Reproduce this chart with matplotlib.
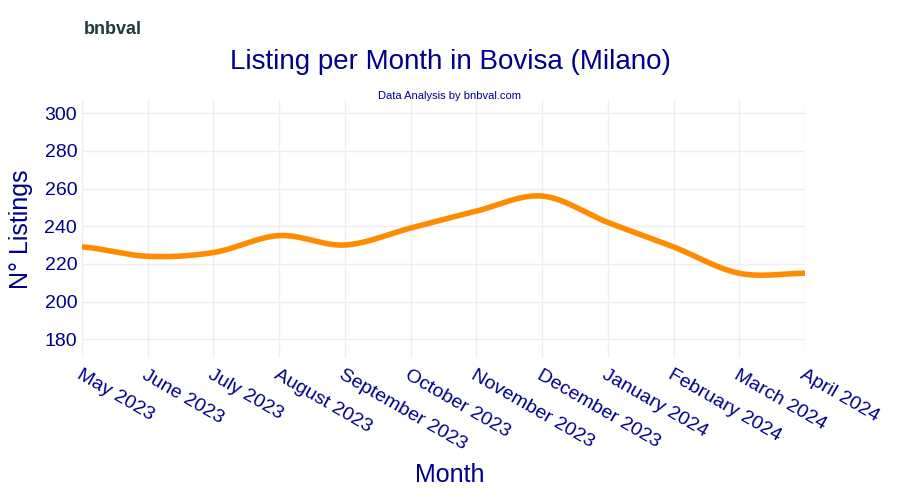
import numpy as np
import matplotlib
matplotlib.use("Agg")
import matplotlib.pyplot as plt
plt.rcParams["font.family"] = "Liberation Sans"

months = ["May 2023","June 2023","July 2023","August 2023","September 2023","October 2023",
          "November 2023","December 2023","January 2024","February 2024","March 2024","April 2024"]
listings = [229, 224, 226, 235, 230, 239, 248, 256, 242, 229, 215, 215]

def catmull(y, n=30):
    y = np.asarray(y, float)
    p = np.concatenate([[y[0]], y, [y[-1]]])
    xs, ys = [], []
    for i in range(len(y) - 1):
        p0, p1, p2, p3 = p[i], p[i+1], p[i+2], p[i+3]
        t = np.linspace(0, 1, n, endpoint=False)
        v = 0.5*((2*p1) + (-p0+p2)*t + (2*p0-5*p1+4*p2-p3)*t**2 + (-p0+3*p1-3*p2+p3)*t**3)
        xs.append(i + t); ys.append(v)
    xs.append([len(y)-1]); ys.append([y[-1]])
    return np.concatenate(xs), np.concatenate(ys)

fig = plt.figure(figsize=(9, 5), dpi=100)
ax = fig.add_axes([82/900, 1-358/500, (805-82)/900, (358-100)/500])
xs, ys = catmull(listings)
ax.plot(xs, ys, color="#FF8C00", lw=4, solid_capstyle="round")
ax.set_xlim(0, len(months)-1)
ax.set_ylim(170, 307)
ax.set_yticks(range(180, 301, 20))
ax.set_xticks(range(len(months)))
ax.set_xticklabels(months, rotation=-30, ha="left", va="top", rotation_mode="anchor", fontsize=14, color="#00008B")
ax.tick_params(axis="y", labelsize=14, labelcolor="#00008B", length=0)
ax.tick_params(axis="x", length=0, pad=6)
ax.grid(color="#ECEEF5", lw=1)
for s in ax.spines.values():
    s.set_visible(False)
ax.set_axisbelow(True)
ax.set_ylabel("N° Listings", fontsize=18, color="#00008B", labelpad=8)
fig.text(0.5, 1-475/500, "Month", ha="center", va="center", fontsize=18, color="#00008B")
fig.text(0.5, 1-62/500, "Listing per Month in Bovisa (Milano)", ha="center", va="center", fontsize=20, color="#00008B")
fig.text(0.5, 1-96/500, "Data Analysis by bnbval.com", ha="center", va="center", fontsize=8, color="#00008B")
fig.text(84/900, 1-30/500, "bnbval", ha="left", va="center", fontsize=13, fontweight="bold", color="#1F3B3A")
fig.savefig("out.png", dpi=100)
